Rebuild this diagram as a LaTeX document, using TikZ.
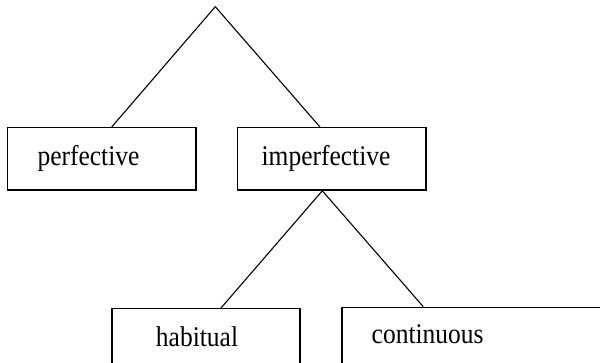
\documentclass[tikz,border=0pt]{standalone}
\usepackage{fontspec}
\setmainfont{Liberation Serif}
\usetikzlibrary{calc}
\newcommand{\tallword}[1]{\scalebox{1}[1.12]{#1}}
\begin{document}
\begin{tikzpicture}[x=1pt,y=-1pt,
  box/.style={draw=black,line width=1.5pt,rectangle,inner sep=0pt,anchor=north west},
  lbl/.style={anchor=base,inner sep=0pt,font=\fontsize{25.5}{30}\selectfont},
  conn/.style={draw=black,line width=1.1pt}]
\useasboundingbox (0,0) rectangle (600,363);
\clip (0,0) rectangle (600,363);
\coordinate (apex) at (215.3,6.7);
\node[box,minimum width=188.3pt,minimum height=62.3pt] (perf) at (6.7,127) {};
\node[box,minimum width=188.3pt,minimum height=62.3pt] (imperf) at (236.7,127) {};
\node[box,minimum width=188.3pt,minimum height=62pt] (hab) at (111,308) {};
\node[box,minimum width=270pt,minimum height=56.6pt] (cont) at (341.3,306.7) {};
\node[lbl] (perftext) at (88.5,166) {\tallword{perfective}};
\node[lbl] (imperftext) at (326,166) {\tallword{imperfective}};
\node[lbl] (habtext) at (197,346.7) {\tallword{habitual}};
\node[lbl] (conttext) at (427.7,343.3) {\tallword{continuous}};
\draw[conn] ($(perf.north west)+(105,0)$) -- (apex) -- ($(imperf.north west)+(83.3,0)$);
\draw[conn] ($(hab.north west)+(110,0)$) -- ($(imperf.south west)+(85.6,0)$) -- ($(cont.north west)+(82,0)$);
\end{tikzpicture}
\end{document}
